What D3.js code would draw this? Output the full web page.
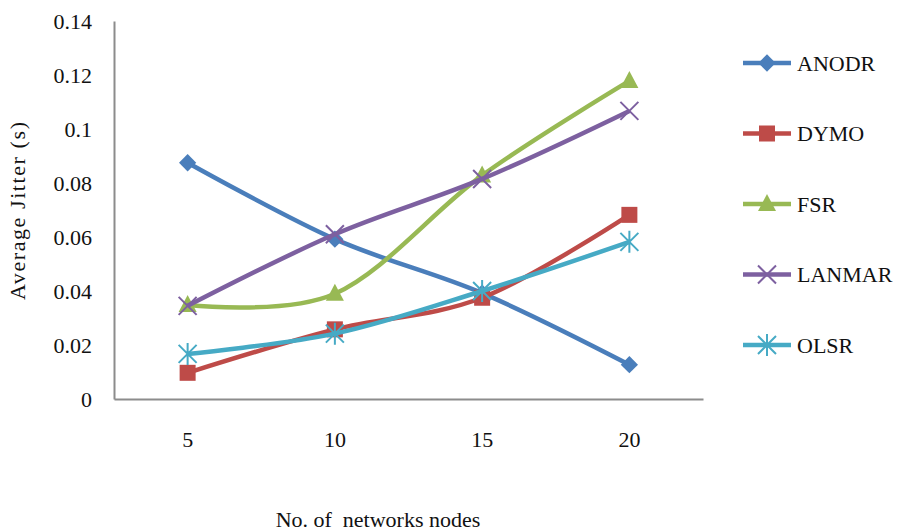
<!DOCTYPE html>
<html>
<head>
<meta charset="utf-8">
<script src="https://cdn.jsdelivr.net/npm/d3@7"></script>
<style>
  html, body { margin: 0; padding: 0; background: #fff; }
  svg { display: block; font-family: "Liberation Serif", "Times New Roman", serif; }
</style>
</head>
<body>
<svg id="chart" width="899" height="532"></svg>
<script>
// Network size (x categories)
const nodes = ["5", "10", "15", "20"];

// Average jitter in seconds per protocol
const anodr  = [0.0875, 0.0592, 0.0392, 0.0127];
const dymo   = [0.0097, 0.0258, 0.0375, 0.0682];
const fsr    = [0.0348, 0.0390, 0.0828, 0.1178];
const lanmar = [0.0345, 0.0610, 0.0815, 0.1067];
const olsr   = [0.0167, 0.0242, 0.0400, 0.0582];

const seriesNames = ["ANODR", "DYMO", "FSR", "LANMAR", "OLSR"];
const yTicks = [0, 0.02, 0.04, 0.06, 0.08, 0.1, 0.12, 0.14];

const series = [
  { name: seriesNames[0], values: anodr,  color: "#4a7ebb", marker: "diamond" },
  { name: seriesNames[1], values: dymo,   color: "#be4b48", marker: "square" },
  { name: seriesNames[2], values: fsr,    color: "#98b954", marker: "triangle" },
  { name: seriesNames[3], values: lanmar, color: "#7d60a0", marker: "cross" },
  { name: seriesNames[4], values: olsr,   color: "#46aac5", marker: "star" }
];

const svg = d3.select("#chart");
const plot = { left: 114, right: 703, top: 21, bottom: 399 };

const x = d3.scaleBand().domain(nodes).range([plot.left, plot.right]);
const y = d3.scaleLinear().domain([0, 0.14]).range([plot.bottom, plot.top]);

// Axes: plain grey lines, no tick marks
const yAxis = svg.append("g")
  .attr("transform", `translate(${plot.left},0)`)
  .call(d3.axisLeft(y).tickValues(yTicks).tickSize(0).tickPadding(22)
    .tickFormat(d => d === 0 ? "0" : String(+d.toFixed(2))));
yAxis.select(".domain").attr("stroke", "#8c8c8c").attr("stroke-width", 2);
yAxis.selectAll("text").attr("font-size", 22).attr("font-family", "Liberation Serif")
  .attr("fill", "#111").attr("dy", "0.35em");

const xAxis = svg.append("g")
  .attr("transform", `translate(0,${plot.bottom})`)
  .call(d3.axisBottom(x).tickSize(0).tickPadding(32));
xAxis.select(".domain").attr("stroke", "#8c8c8c").attr("stroke-width", 2);
xAxis.selectAll("text").attr("font-size", 22).attr("font-family", "Liberation Serif")
  .attr("fill", "#111");

// Axis titles
svg.append("text")
  .attr("transform", "translate(25,211) rotate(-90)")
  .attr("text-anchor", "middle")
  .attr("font-size", 22)
  .attr("fill", "#111")
  .attr("textLength", 178)
  .text("Average Jitter (s)");

svg.append("text")
  .attr("x", 378).attr("y", 527)
  .attr("text-anchor", "middle")
  .attr("font-size", 22)
  .attr("fill", "#111")
  .attr("xml:space", "preserve")
  .text("No. of  networks nodes");

// Marker shapes
function drawMarker(g, type, color) {
  switch (type) {
    case "diamond":
      g.append("path").attr("d", d3.symbol(d3.symbolDiamond2, 190)()).attr("fill", color)
        .attr("transform", "rotate(0)");
      break;
    case "square":
      g.append("rect").attr("x", -8).attr("y", -8).attr("width", 16).attr("height", 16).attr("fill", color);
      break;
    case "triangle":
      g.append("path").attr("d", "M0,-10L9,7L-9,7Z").attr("fill", color);
      break;
    case "cross":
      g.append("path").attr("d", "M-9,-9L9,9M-9,9L9,-9").attr("stroke", color).attr("stroke-width", 2).attr("fill", "none");
      break;
    case "star":
      g.append("path").attr("d", "M-9,-9L9,9M-9,9L9,-9M0,-11L0,11").attr("stroke", color).attr("stroke-width", 2).attr("fill", "none");
      break;
  }
}

const line = d3.line()
  .x((d, i) => x(nodes[i]) + x.bandwidth() / 2)
  .y(d => y(d))
  .curve(d3.curveCardinal.tension(0));

const gSeries = svg.append("g");
series.forEach(s => {
  const g = gSeries.append("g");
  g.append("path")
    .attr("d", line(s.values))
    .attr("fill", "none")
    .attr("stroke", s.color)
    .attr("stroke-width", 4.5)
    .attr("stroke-linejoin", "round");
  s.values.forEach((v, i) => {
    const m = g.append("g")
      .attr("transform", `translate(${x(nodes[i]) + x.bandwidth() / 2},${y(v)})`);
    drawMarker(m, s.marker, s.color);
  });
});

// Legend
const legend = svg.append("g");
series.forEach((s, i) => {
  const cy = 63 + i * 70.5;
  const g = legend.append("g").attr("transform", `translate(0,${cy})`);
  g.append("line").attr("x1", 743).attr("x2", 791).attr("y1", 0).attr("y2", 0)
    .attr("stroke", s.color).attr("stroke-width", 4.5);
  const m = g.append("g").attr("transform", "translate(767,0)");
  drawMarker(m, s.marker, s.color);
  g.append("text").attr("x", 797).attr("y", 0).attr("dy", "0.35em")
    .attr("font-size", 22).attr("fill", "#111").text(s.name);
});
</script>
</body>
</html>
